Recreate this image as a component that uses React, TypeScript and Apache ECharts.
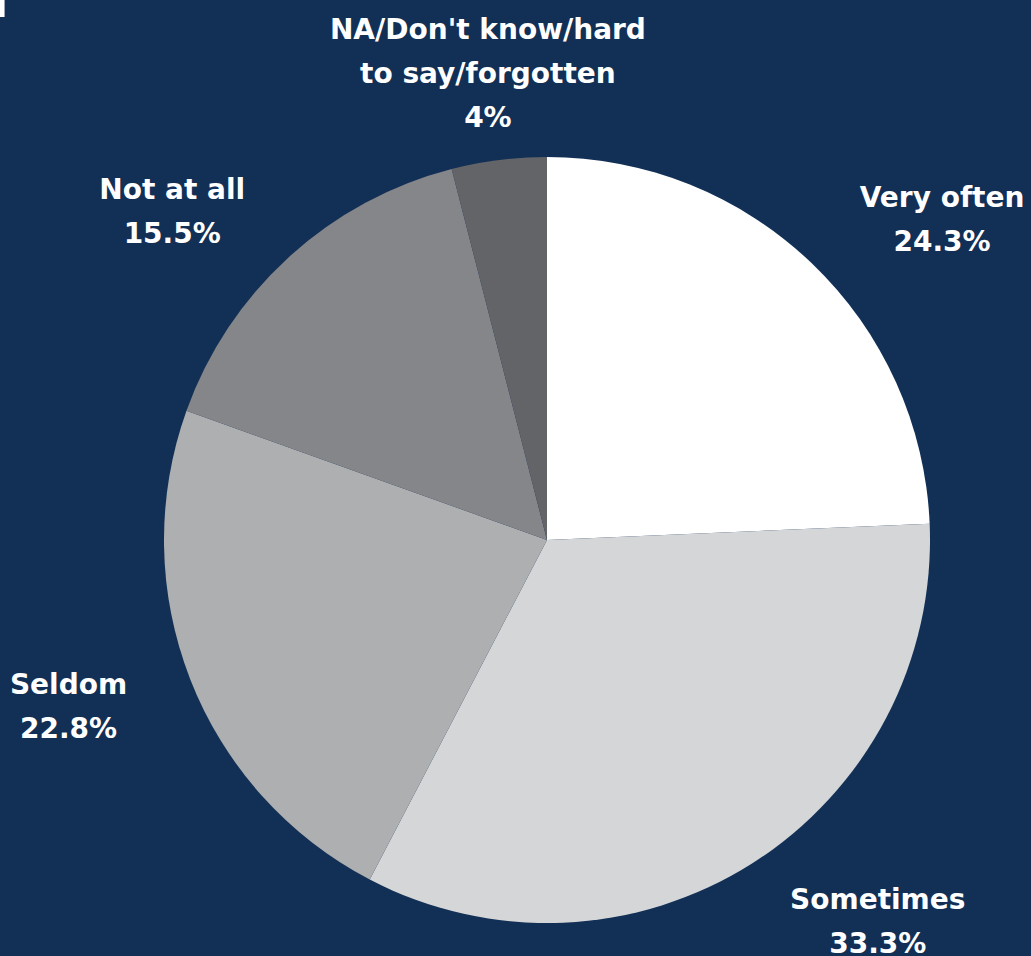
import React, { useEffect, useRef } from "react";
import * as echarts from "echarts";

const categories = ["Very often", "Sometimes", "Seldom", "Not at all", "NA/Don't know/hard to say/forgotten"];
const values = [24.3, 33.3, 22.8, 15.5, 4];
const colors = ["#FFFFFF", "#D5D6D8", "#AEAFB1", "#85868A", "#636468"];
// label nudges relative to the radial anchor (label box centre)
const labelNudge = [
  [47, 43],
  [61, -43],
  [-10, -17],
  [-36, 43],
  [4, 33],
];

export default function App() {
  const ref = useRef<HTMLDivElement>(null);
  useEffect(() => {
    document.body.style.margin = "0";
    const chart = echarts.init(ref.current!, undefined, { renderer: "svg" });
    const option: any = {
      animation: false,
      backgroundColor: "#123056",
      graphic: [
        { type: "rect", shape: { x: 0, y: 0, width: 4, height: 17 }, style: { fill: "#FFFFFF" } },
        { type: "rect", shape: { x: 4, y: 0, width: 1, height: 17 }, style: { fill: "#9AA3B2" } },
      ],
      series: [
        {
          type: "pie",
          center: [547, 540],
          radius: 383,
          startAngle: 90,
          clockwise: true,
          avoidLabelOverlap: false,
          data: categories.map((name, i) => ({ name, value: values[i], itemStyle: { color: colors[i] } })),
          itemStyle: { borderWidth: 0 },
          label: {
            show: true,
            position: "outside",
            color: "#FFFFFF",
            fontFamily: "DejaVu Sans",
            fontWeight: "bold",
            fontSize: 28,
            lineHeight: 44,
            formatter: (p: any) => p.name.replace("hard to", "hard\nto") + "\n" + p.value + "%",
          },
          labelLine: { show: true, length: 120, length2: 0, lineStyle: { opacity: 0, width: 0 } },
          labelLayout: (p: any) => {
            const pts = p.labelLinePoints;
            const n = labelNudge[p.dataIndex];
            let ex: number, ey: number;
            if (pts && pts.length) {
              const end = pts[pts.length - 1];
              ex = end[0];
              ey = end[1];
            } else {
              const total = values.reduce((a, b) => a + b, 0);
              let cum = 0;
              for (let i = 0; i < p.dataIndex; i++) cum += values[i];
              const th = ((cum + values[p.dataIndex] / 2) / total) * Math.PI * 2;
              ex = 547 + Math.sin(th) * 503;
              ey = 540 - Math.cos(th) * 503;
            }
            return { x: ex + n[0], y: ey + n[1], align: "center", verticalAlign: "middle" };
          },
        },
      ],
    };
    chart.setOption(option);
    return () => chart.dispose();
  }, []);
  return <div ref={ref} style={{ width: 1031, height: 956 }} />;
}
